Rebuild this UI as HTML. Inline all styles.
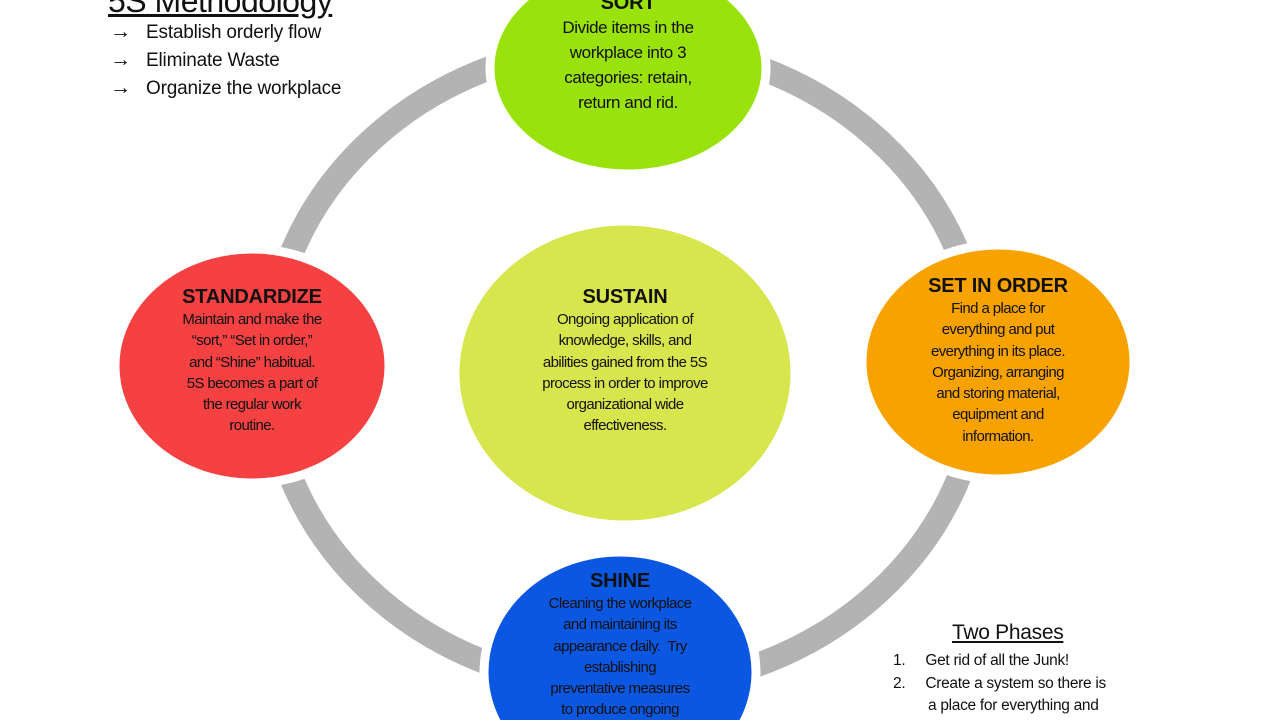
<!DOCTYPE html>
<html><head><meta charset="utf-8"><style>
body{margin:0;width:1280px;height:720px;overflow:hidden;background:#fff;font-family:"Liberation Sans",sans-serif;position:relative}
.t{position:absolute;text-align:center;color:#111;font-size:15px;line-height:21.3px;letter-spacing:-0.6px;white-space:nowrap}
.t b{font-size:20px;display:block;line-height:24px;letter-spacing:-0.2px}
.abs{position:absolute}
</style></head><body>
<svg class="abs" style="left:0;top:0" width="1280" height="720">
<ellipse cx="625" cy="366" rx="356" ry="322" fill="none" stroke="#b3b3b3" stroke-width="24"/>
<g stroke="#fff" stroke-width="9">
<ellipse cx="628" cy="68" rx="138" ry="106" fill="#9ae20c"/>
<ellipse cx="998" cy="362" rx="136" ry="117" fill="#f8a200"/>
<ellipse cx="252" cy="366" rx="137" ry="117" fill="#f54142"/>
<ellipse cx="625" cy="373" rx="170" ry="152" fill="#d6e64c"/>
<ellipse cx="620" cy="672" rx="136" ry="120" fill="#0b57e2"/>
</g>
</svg>
<div class="abs" style="left:108px;top:-17px;font-size:32px;text-decoration:underline;color:#111;letter-spacing:-0.5px">5S Methodology</div>
<div class="abs" style="left:110px;top:18px;font-size:19px;line-height:27px;color:#111;letter-spacing:-0.2px">
<span style="font-size:21px">→</span>&nbsp;&nbsp;&nbsp;Establish orderly flow<br><span style="font-size:21px">→</span>&nbsp;&nbsp;&nbsp;Eliminate Waste<br><span style="font-size:21px">→</span>&nbsp;&nbsp;&nbsp;Organize the workplace</div>
<div class="t" style="left:498px;top:-9px;width:260px;font-size:17px;line-height:25px;letter-spacing:-0.4px"><b>SORT</b>Divide items in the<br>workplace into 3<br>categories: retain,<br>return and rid.</div>
<div class="t" style="left:880px;top:274px;width:236px"><b>SET IN ORDER</b>Find a place for<br>everything and put<br>everything in its place.<br>Organizing, arranging<br>and storing material,<br>equipment and<br>information.</div>
<div class="t" style="left:150px;top:285px;width:204px"><b>STANDARDIZE</b>Maintain and make the<br>“sort,” “Set in order,”<br>and “Shine” habitual.<br>5S becomes a part of<br>the regular work<br>routine.</div>
<div class="t" style="left:505px;top:285px;width:240px"><b>SUSTAIN</b>Ongoing application of<br>knowledge, skills, and<br>abilities gained from the 5S<br>process in order to improve<br>organizational wide<br>effectiveness.</div>
<div class="t" style="left:510px;top:569px;width:220px"><b>SHINE</b>Cleaning the workplace<br>and maintaining its<br>appearance daily.&nbsp; Try<br>establishing<br>preventative measures<br>to produce ongoing</div>
<div class="abs" style="left:952px;top:621px;font-size:21px;text-decoration:underline;color:#111;letter-spacing:-0.3px">Two Phases</div>
<div class="abs" style="left:893px;top:650px;font-size:15.5px;line-height:22.5px;color:#111;letter-spacing:-0.3px;white-space:nowrap">
<div>1.&nbsp;&nbsp;&nbsp;&nbsp;&nbsp;Get rid of all the Junk!</div>
<div>2.&nbsp;&nbsp;&nbsp;&nbsp;&nbsp;Create a system so there is</div>
<div style="padding-left:35px">a place for everything and</div></div>
</body></html>
